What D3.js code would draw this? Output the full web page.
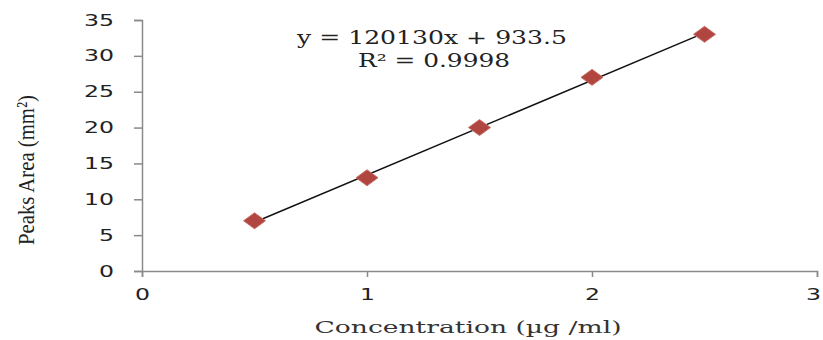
<!DOCTYPE html>
<html>
<head>
<meta charset="utf-8">
<script src="https://cdn.jsdelivr.net/npm/d3@7"></script>
<style>
  body { margin: 0; background: #fff; }
  svg { display: block; }
</style>
</head>
<body>
<svg class="chart"></svg>
<script>
// calibration data
const concentration = [0.5, 1, 1.5, 2, 2.5];
const peakArea = [7, 13, 20, 27, 33];
const xTicks = [0, 1, 2, 3];
const yTicks = [0, 5, 10, 15, 20, 25, 30, 35];
const equationText = "y = 120130x + 933.5";
const r2Text = "R² = 0.9998";

const width = 823;
const height = 340;
const margin = {top: 20, right: 6, bottom: 69, left: 142};

const svg = d3.select(".chart")
    .attr("width", width)
    .attr("height", height);

const x = d3.scaleLinear().domain([0, 3]).range([margin.left, width - margin.right]);
const y = d3.scaleLinear().domain([0, 35]).range([height - margin.bottom, margin.top]);

// axes
const yAxis = svg.append("g")
    .attr("transform", `translate(${margin.left},0)`)
    .call(d3.axisLeft(y).tickValues(yTicks).tickFormat(d3.format("d")).tickSize(8).tickPadding(20));

const xAxis = svg.append("g")
    .attr("transform", `translate(0,${y(0)})`)
    .call(d3.axisBottom(x).tickValues(xTicks).tickFormat(d3.format("d")).tickSize(6).tickPadding(12));

[xAxis, yAxis].forEach(g => {
    g.select(".domain").attr("stroke", "#8a8a8a").attr("stroke-width", 1.5);
    g.selectAll(".tick line").attr("stroke", "#8a8a8a").attr("stroke-width", 1.5);
    g.selectAll(".tick text")
        .attr("fill", "#222")
        .attr("font-family", "DejaVu Sans")
        .attr("font-size", 16)
        .attr("textLength", d => String(d).length * 15)
        .attr("lengthAdjust", "spacingAndGlyphs");
});

// keep the last x label inside the frame
xAxis.selectAll(".tick text").filter(d => d === 3).attr("x", -4);

// linear trendline (least squares)
const mx = d3.mean(concentration), my = d3.mean(peakArea);
const slope = d3.sum(concentration, (c, i) => (c - mx) * (peakArea[i] - my)) /
    d3.sum(concentration, c => (c - mx) * (c - mx));
const intercept = my - slope * mx;
const xExt = d3.extent(concentration);

svg.append("line")
    .attr("x1", x(xExt[0])).attr("y1", y(slope * xExt[0] + intercept))
    .attr("x2", x(xExt[1])).attr("y2", y(slope * xExt[1] + intercept))
    .attr("stroke", "#111")
    .attr("stroke-width", 1.5);

// diamond markers
svg.selectAll(".pt")
    .data(concentration)
    .enter().append("path")
    .attr("class", "pt")
    .attr("transform", (c, i) => `translate(${x(c)},${y(peakArea[i])})`)
    .attr("d", "M-11,0L0,-8L11,0L0,8Z")
    .attr("fill", "#b0463f")
    .attr("stroke", "#c9706a")
    .attr("stroke-width", 1);

// trendline equation
svg.append("text")
    .attr("x", 432).attr("y", 44)
    .attr("text-anchor", "middle")
    .attr("font-family", "DejaVu Serif")
    .attr("font-size", 18)
    .attr("fill", "#222")
    .attr("textLength", 270)
    .attr("lengthAdjust", "spacingAndGlyphs")
    .text(equationText);

svg.append("text")
    .attr("x", 434).attr("y", 67)
    .attr("text-anchor", "middle")
    .attr("font-family", "DejaVu Serif")
    .attr("font-size", 18)
    .attr("fill", "#222")
    .attr("textLength", 152)
    .attr("lengthAdjust", "spacingAndGlyphs")
    .text(r2Text);

// axis titles
svg.append("text")
    .attr("x", 468).attr("y", 333)
    .attr("text-anchor", "middle")
    .attr("font-family", "DejaVu Serif")
    .attr("font-size", 17)
    .attr("fill", "#333")
    .attr("textLength", 307)
    .attr("lengthAdjust", "spacingAndGlyphs")
    .text("Concentration (µg /ml)");

svg.append("text")
    .attr("transform", "translate(34,170) rotate(-90)")
    .attr("text-anchor", "middle")
    .attr("font-family", "Liberation Serif")
    .attr("font-size", 24)
    .attr("fill", "#222")
    .attr("textLength", 150)
    .attr("lengthAdjust", "spacingAndGlyphs")
    .text("Peaks Area (mm²)");
</script>
</body>
</html>
